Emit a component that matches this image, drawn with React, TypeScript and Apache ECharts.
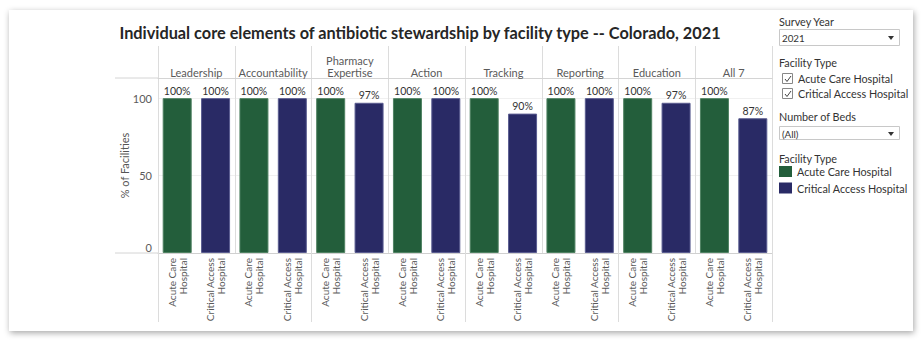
import React, { useEffect, useRef } from "react";
import * as echarts from "echarts";

const elements = ["Leadership", "Accountability", "Pharmacy\nExpertise", "Action", "Tracking", "Reporting", "Education", "All 7"];
const facilityTypes = ["Acute Care\nHospital", "Critical Access\nHospital"];
const acuteValues = [100, 100, 100, 100, 100, 100, 100, 100];
const criticalValues = [100, 100, 97, 100, 90, 100, 97, 87];
const yTicks = [0, 50, 100];
const legendNames = ["Acute Care Hospital", "Critical Access Hospital"];
const surveyYear = "2021";
const bedsFilter = "(All)";
const titleText = "Individual core elements of antibiotic stewardship by facility type -- Colorado, 2021";

const GREEN = "#235e3b";
const NAVY = "#292a65";
const FONT = "Lato, 'Open Sans', sans-serif";

export default function App() {
  const ref = useRef<HTMLDivElement>(null);
  useEffect(() => {
    if (!ref.current) return;
    const chart = echarts.init(ref.current, null, { renderer: "svg" });
    const cats: string[] = [];
    const acuteData: any[] = [];
    const critData: any[] = [];
    elements.forEach((_, i) => {
      cats.push(facilityTypes[0], facilityTypes[1]);
      acuteData.push(acuteValues[i], "-");
      critData.push("-", criticalValues[i]);
    });
    const txt = (text: string, x: number, y: number, size = 10.8, color = "#333") => ({
      type: "text",
      x,
      y,
      z: 10,
      style: { text, font: `${size}px ${FONT}`, fill: color, textAlign: "left", textVerticalAlign: "middle" },
    });
    const box = (x: number, y: number, w: number, h: number, fill: string, stroke?: string) => ({
      type: "rect",
      z: 10,
      shape: { x, y, width: w, height: h },
      style: { fill, stroke: stroke || null, lineWidth: stroke ? 1 : 0 },
    });
    const check = (x: number, y: number) => ({
      type: "polyline",
      z: 11,
      shape: { points: [[x + 2.5, y + 5.5], [x + 4.5, y + 8], [x + 8.5, y + 2.5]] },
      style: { stroke: "#444", lineWidth: 1, fill: null },
    });
    const tri = (x: number, y: number) => ({
      type: "polygon",
      z: 11,
      shape: { points: [[x, y], [x + 6, y], [x + 3, y + 4]] },
      style: { fill: "#333" },
    });
    const hline = (x1: number, x2: number, y: number) => ({
      type: "line",
      z: 5,
      shape: { x1, y1: y, x2, y2: y },
      style: { stroke: "#d4d4d4", lineWidth: 1 },
    });
    const labelFont = { fontFamily: FONT, color: "#5a5a5a" };

    chart.setOption({
      animation: false,
      backgroundColor: "#ffffff",
      title: {
        text: titleText,
        left: 415,
        textAlign: "center",
        top: 19,
        textStyle: { fontFamily: FONT, fontWeight: "bold", fontSize: 16.3, color: "#262626" },
      },
      grid: { left: 158, right: 152, top: 78, bottom: 87 },
      xAxis: [
        {
          type: "category",
          data: cats,
          position: "bottom",
          axisLine: { show: true, lineStyle: { color: "#d0d0d0" } },
          axisTick: { show: false },
          axisLabel: { interval: 0, rotate: 90, margin: 5, fontSize: 10, lineHeight: 11, align: "right", ...labelFont },
        },
        {
          type: "category",
          data: elements,
          position: "top",
          axisLine: { show: true, lineStyle: { color: "#d4d4d4" } },
          axisTick: { show: true, length: 32, lineStyle: { color: "#dcdcdc" } },
          splitLine: { show: true, lineStyle: { color: "#dcdcdc" } },
          axisLabel: { interval: 0, margin: 0, fontSize: 11, lineHeight: 12, ...labelFont },
        },
        {
          type: "category",
          data: elements,
          position: "bottom",
          axisLine: { show: false },
          axisTick: { show: true, length: 69, lineStyle: { color: "#dcdcdc" } },
          axisLabel: { show: false },
        },
      ],
      yAxis: {
        type: "value",
        min: yTicks[0],
        max: 113,
        interval: yTicks[1] - yTicks[0],
        name: "% of Facilities",
        nameLocation: "middle",
        nameGap: 28,
        nameMoveOverlap: false,
        nameTextStyle: { fontFamily: FONT, fontSize: 11, color: "#555" },
        axisLine: { show: false },
        axisTick: { show: false },
        axisLabel: {
          showMaxLabel: false,
          margin: 6,
          fontSize: 11,
          ...labelFont,
          formatter: (v: number) => (v === 0 ? "{z|0}" : String(v)),
          rich: { z: { fontSize: 11, fontFamily: FONT, color: "#5a5a5a", padding: [0, 0, 12, 0] } },
        },
        splitLine: { lineStyle: { color: "#f0f0f0" } },
      },
      series: [
        {
          name: legendNames[0],
          type: "bar",
          xAxisIndex: 0,
          data: acuteData,
          barWidth: 29,
          barGap: "-100%",
          itemStyle: { color: GREEN, borderColor: "#4f8262", borderWidth: 1 },
          label: { show: true, position: "top", distance: 2, formatter: "{c}%", fontSize: 10.5, fontFamily: FONT, color: "#333" },
        },
        {
          name: legendNames[1],
          type: "bar",
          xAxisIndex: 0,
          data: critData,
          barWidth: 29,
          barGap: "-100%",
          itemStyle: { color: NAVY, borderColor: "#5a5c90", borderWidth: 1 },
          label: { show: true, position: "top", distance: 2, formatter: "{c}%", fontSize: 10.5, fontFamily: FONT, color: "#333" },
        },
      ],
      graphic: [
        {
          type: "rect",
          z: -10,
          silent: true,
          shape: { x: 9, y: 10, width: 904, height: 321 },
          style: { fill: "#fff", shadowBlur: 6, shadowColor: "rgba(0,0,0,0.35)", shadowOffsetX: 1, shadowOffsetY: 2 },
        },
        hline(115, 158, 78),
        hline(115, 158, 253),
        txt("Survey Year", 779, 21),
        box(779.5, 29.5, 120, 16, "#fff", "#c8c8c8"),
        txt(surveyYear, 782, 38, 9.8),
        tri(888, 36),
        txt("Facility Type", 779, 62),
        box(782.5, 73.5, 10, 10, "#fff", "#888"),
        check(782.5, 73.5),
        txt(legendNames[0], 798, 78.5),
        box(782.5, 88.5, 10, 10, "#fff", "#888"),
        check(782.5, 88.5),
        txt(legendNames[1], 798, 93),
        txt("Number of Beds", 779, 116),
        box(779.5, 126.5, 120, 13, "#fff", "#c8c8c8"),
        txt(bedsFilter, 782, 133.5, 9.8),
        tri(888, 132),
        txt("Facility Type", 779, 158),
        box(779, 166, 13, 11, GREEN),
        txt(legendNames[0], 797, 171),
        box(779, 182.5, 13, 11, NAVY),
        txt(legendNames[1], 797, 188),
      ],
    });
    return () => chart.dispose();
  }, []);
  return (
    <div
      ref={ref}
      style={{ position: "fixed", left: 0, top: 0, width: 924, height: 340 }}
    />
  );
}
